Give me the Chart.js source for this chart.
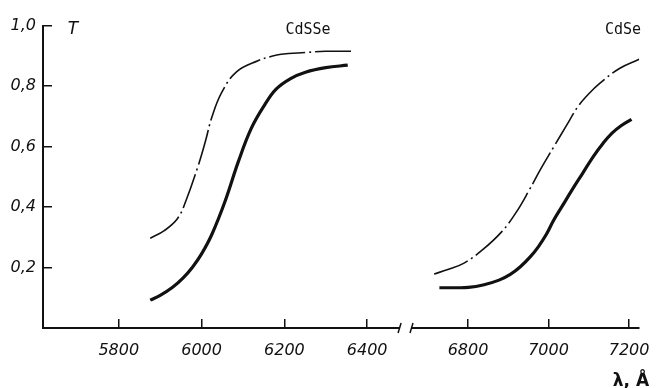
<!DOCTYPE html>
<html>
<head>
<meta charset="utf-8">
<script src="https://cdn.jsdelivr.net/npm/chart.js@4.4.1/dist/chart.umd.min.js"></script>
<style>
    html, body { margin: 0; padding: 0; background: #fff; }
    #wrap { position: relative; width: 672px; height: 388px; overflow: hidden; }
    #leftChart { position: absolute; left: 0; top: 0; }
    #rightChart { position: absolute; left: 405px; top: 0; }
</style>
</head>
<body>
<div id="wrap">
    <canvas id="leftChart" width="410" height="388"></canvas>
    <canvas id="rightChart" width="267" height="388"></canvas>
</div>
<script>
// CdSSe (left part of the broken axis)
const cdsseDashWl = [5876, 5910, 5942, 5962, 5990, 6009, 6025, 6049, 6085, 6136, 6168, 6192, 6250, 6299, 6361];
const cdsseDashT  = [0.297, 0.322, 0.362, 0.42, 0.529, 0.616, 0.698, 0.78, 0.848, 0.884, 0.898, 0.905, 0.911, 0.915, 0.915];
const cdsseSolidWl = [5876, 5900, 5930, 5955, 5978, 6000, 6025, 6057, 6089, 6120, 6152, 6180, 6215, 6251, 6300, 6353];
const cdsseSolidT  = [0.092, 0.108, 0.135, 0.165, 0.201, 0.245, 0.31, 0.42, 0.551, 0.66, 0.737, 0.79, 0.825, 0.846, 0.861, 0.869];

// CdSe (right part)
const cdseDashWl = [6716, 6750, 6789, 6835, 6884, 6920, 6952, 6980, 7013, 7045, 7073, 7100, 7127, 7176, 7225];
const cdseDashT  = [0.177, 0.192, 0.212, 0.255, 0.316, 0.38, 0.452, 0.52, 0.594, 0.665, 0.726, 0.768, 0.802, 0.851, 0.881];
const cdseSolidWl = [6729, 6765, 6801, 6840, 6877, 6905, 6930, 6955, 6975, 6995, 7013, 7035, 7058, 7085, 7111, 7135, 7157, 7180, 7206];
const cdseSolidT  = [0.132, 0.132, 0.133, 0.142, 0.157, 0.176, 0.201, 0.234, 0.267, 0.308, 0.354, 0.402, 0.452, 0.508, 0.562, 0.605, 0.638, 0.663, 0.684];

// axes
const xTicksLeft = [5800, 6000, 6200, 6400];
const xTicksRight = [6800, 7000, 7200];
const yTicks = [0.2, 0.4, 0.6, 0.8, 1.0];

const INK = '#111';
const tickFont = { family: 'DejaVu Sans', size: 16, style: 'italic' };

function toPoints(xs, ys) {
    return xs.map((x, i) => ({ x: x, y: ys[i] }));
}

function dashDot(xs, ys) {
    return {
        data: toPoints(xs, ys),
        borderColor: INK,
        borderWidth: 1.6,
        borderDash: [36, 4, 2, 4],
        pointRadius: 0,
        tension: 0.4,
        fill: false
    };
}

function solid(xs, ys) {
    return {
        data: toPoints(xs, ys),
        borderColor: INK,
        borderWidth: 3.2,
        pointRadius: 0,
        tension: 0.4,
        fill: false
    };
}

function xAxis(min, max, ticks) {
    return {
        type: 'linear',
        min: min,
        max: max,
        afterBuildTicks: s => { s.ticks = ticks.map(v => ({ value: v })); },
        afterFit: s => { s.height = 60; },
        grid: { drawOnChartArea: false, drawTicks: true, tickLength: -9, color: INK, lineWidth: 1.5 },
        border: { display: true, color: INK, width: 2 },
        ticks: {
            font: tickFont,
            color: INK,
            padding: 22,
            maxRotation: 0,
            autoSkip: false,
            callback: v => String(v)
        }
    };
}

// break marks and labels
const decorLeft = {
    id: 'decorLeft',
    afterDraw(chart) {
        const c = chart.ctx, a = chart.chartArea;
        c.save();
        c.strokeStyle = INK;
        c.lineWidth = 1.5;
        c.beginPath();
        c.moveTo(a.right - 1, a.bottom + 5);
        c.lineTo(a.right + 2, a.bottom - 5);
        c.stroke();
        c.fillStyle = INK;
        c.textAlign = 'center';
        c.textBaseline = 'middle';
        c.font = 'italic 17px "DejaVu Sans"';
        c.fillText('T', 73, 30);
        c.font = '15px "DejaVu Sans Mono"';
        c.fillText('CdSSe', 308, 30);
        c.restore();
    }
};

const decorRight = {
    id: 'decorRight',
    afterDraw(chart) {
        const c = chart.ctx, a = chart.chartArea;
        c.save();
        c.strokeStyle = INK;
        c.lineWidth = 1.5;
        c.beginPath();
        c.moveTo(a.left - 2, a.bottom + 5);
        c.lineTo(a.left + 1, a.bottom - 5);
        c.stroke();
        c.fillStyle = INK;
        c.textAlign = 'center';
        c.textBaseline = 'middle';
        c.font = '15px "DejaVu Sans Mono"';
        c.fillText('CdSe', 218, 30);
        c.textBaseline = 'alphabetic';
        c.font = 'bold 17px "DejaVu Sans"';
        c.fillText('λ, Å', 226, 386);
        c.restore();
    }
};

Chart.defaults.animation = false;

new Chart(document.getElementById('leftChart'), {
    type: 'line',
    data: {
        datasets: [
            dashDot(cdsseDashWl, cdsseDashT),
            solid(cdsseSolidWl, cdsseSolidT)
        ]
    },
    options: {
        responsive: false,
        devicePixelRatio: 1,
        layout: { padding: { top: 23, right: 5, left: 0, bottom: 0 } },
        plugins: { legend: { display: false }, tooltip: { enabled: false } },
        scales: {
            x: xAxis(5617, 6477, xTicksLeft),
            y: {
                min: 0,
                max: 1,
                afterBuildTicks: s => { s.ticks = yTicks.map(v => ({ value: v })); },
                afterFit: s => { s.width = 43; },
                grid: { drawOnChartArea: false, drawTicks: true, tickLength: -9, color: INK, lineWidth: 1.5 },
                border: { display: true, color: INK, width: 2 },
                ticks: {
                    font: tickFont,
                    color: INK,
                    padding: 16,
                    callback: v => v.toFixed(1).replace('.', ',')
                }
            }
        }
    },
    plugins: [decorLeft]
});

new Chart(document.getElementById('rightChart'), {
    type: 'line',
    data: {
        datasets: [
            dashDot(cdseDashWl, cdseDashT),
            solid(cdseSolidWl, cdseSolidT)
        ]
    },
    options: {
        responsive: false,
        devicePixelRatio: 1,
        layout: { padding: { top: 23, right: 12, left: 7, bottom: 0 } },
        plugins: { legend: { display: false }, tooltip: { enabled: false } },
        scales: {
            x: xAxis(6661, 7225, xTicksRight),
            y: { display: false, min: 0, max: 1 }
        }
    },
    plugins: [decorRight]
});
</script>
</body>
</html>
